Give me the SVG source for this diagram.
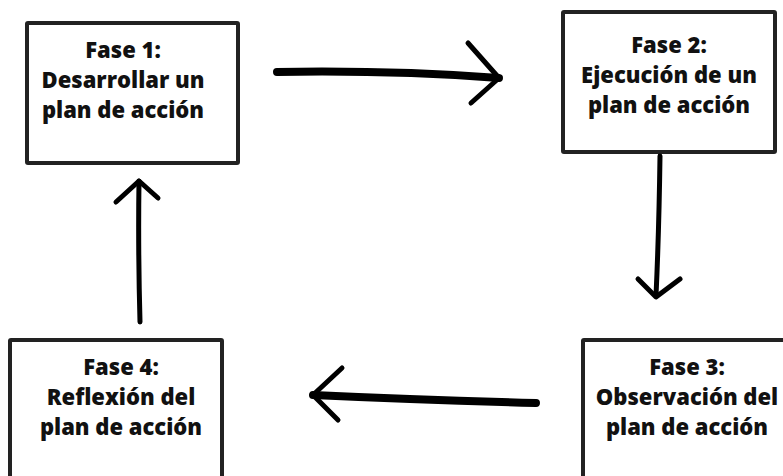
<svg xmlns="http://www.w3.org/2000/svg" width="783" height="476" viewBox="0 0 783 476">
<style>
.box{fill:#fff;stroke:#222;stroke-width:4}
.t{font-family:"Open Sans","Liberation Sans",sans-serif;font-weight:800;font-size:22px;fill:#111;text-anchor:middle}
.sh{fill:none;stroke:#000;stroke-linecap:round;stroke-linejoin:round}
</style>
<rect width="783" height="476" fill="#fff"/>
<g id="fase1">
<rect class="box" x="27" y="23" width="211" height="140" rx="1"/>
<text class="t" x="123" y="58">Fase 1:</text>
<text class="t" x="123" y="88">Desarrollar un</text>
<text class="t" x="123" y="118">plan de acción</text>
</g>
<g id="fase2">
<rect class="box" x="563" y="12" width="212" height="140" rx="1"/>
<text class="t" x="669" y="53">Fase 2:</text>
<text class="t" x="669" y="83">Ejecución de un</text>
<text class="t" x="669" y="113">plan de acción</text>
</g>
<g id="fase3">
<rect class="box" x="583" y="340" width="220" height="160" rx="1"/>
<text class="t" x="687" y="375">Fase 3:</text>
<text class="t" x="687" y="405">Observación del</text>
<text class="t" x="687" y="435">plan de acción</text>
</g>
<g id="fase4">
<rect class="box" x="10" y="340" width="212" height="160" rx="1"/>
<text class="t" x="121" y="375">Fase 4:</text>
<text class="t" x="121" y="405">Reflexión del</text>
<text class="t" x="121" y="435">plan de acción</text>
</g>
<g id="connectors">
<path class="sh" stroke-width="8" d="M277 72 Q390 70 499 78"/>
<path class="sh" stroke-width="5" d="M468 43 L499 78 L471 103"/>
<path class="sh" stroke-width="5" d="M660 156 Q659 230 656 296"/>
<path class="sh" stroke-width="5" d="M638 279 L656 297 L680 279"/>
<path class="sh" stroke-width="8" d="M536 403 Q420 400 313 395"/>
<path class="sh" stroke-width="5" d="M342 368 L313 395 L338 420"/>
<path class="sh" stroke-width="5" d="M140 322 Q138 250 139 181"/>
<path class="sh" stroke-width="5" d="M116 202 L139 181 L158 198"/>
</g>
</svg>
